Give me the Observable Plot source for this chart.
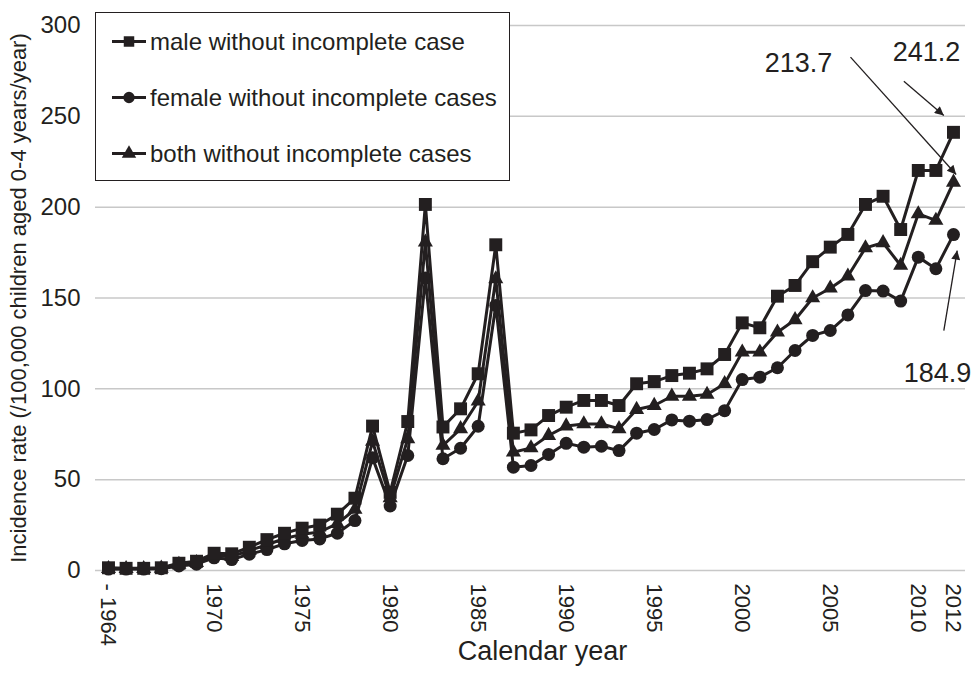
<!DOCTYPE html>
<html><head><meta charset="utf-8">
<script src="https://cdn.jsdelivr.net/npm/d3@7"></script>
<script src="https://cdn.jsdelivr.net/npm/@observablehq/plot@0.6"></script>
<style>
body{margin:0;background:#fff;}
#chart{width:975px;height:681px;}
</style></head><body><div id="chart"></div>
<script>
const years = [1964,1965,1966,1967,1968,1969,1970,1971,1972,1973,
  1974,1975,1976,1977,1978,1979,1980,1981,1982,1983,
  1984,1985,1986,1987,1988,1989,1990,1991,1992,1993,
  1994,1995,1996,1997,1998,1999,2000,2001,2002,2003,
  2004,2005,2006,2007,2008,2009,2010,2011,2012];
const male = [1.5,1.2,1.2,1.5,4,5.1,9.5,9.2,12.8,17,
  20.5,23.3,25,31,39.8,79.5,43,82,201.5,79,
  89,108.3,179.3,75.6,77.4,85.3,89.9,93.6,93.6,90.8,
  102.8,104,107.3,108.6,111,118.9,136.3,133.6,151,156.9,
  170,178,185,201.5,206,187.7,220.2,220.2,241.2];
const female = [0.8,0.8,0.8,1,2.5,3.5,7,6,9,11.5,
  14.7,16.5,17.4,20.5,27.5,62,35.5,63.3,161,61.5,
  67.3,79.4,145.9,56.9,57.8,63.9,70,67.9,68.4,66,
  75.6,77.6,82.9,82.2,83.1,88,105.1,106.4,111.6,121.1,
  129.4,132.1,140.7,154.1,153.8,148.3,172.5,166.1,184.9];
const both = [1,1,1,1.2,3.3,4.3,8.2,7.6,11,14.2,
  17.6,19.9,21.2,25.8,33.6,71,40,72.5,180.7,68.8,
  78,93.2,160.5,65.1,67.5,74.3,79.5,80.7,80.7,78,
  88.6,90.8,95.9,95.9,96.9,102.8,120.2,120.2,131.2,138,
  150,155.4,162,177.6,180.4,167.9,196.3,192.7,213.7];
const seriesNames = ["male without incomplete case","female without incomplete cases","both without incomplete cases"];
const xTicks = [1964,1970,1975,1980,1985,1990,1995,2000,2005,2010,2012];
const xTickLabels = ["- 1964","1970","1975","1980","1985","1990","1995","2000","2005","2010","2012"];
const yTicks = [0,50,100,150,200,250,300];
const xTitle = "Calendar year";
const yTitle = "Incidence rate (/100,000 children aged 0-4 years/year)";
const annoLabels = ["213.7","241.2","184.9"];
const annoTextX = [2003.2,2010.47,2011.09];
const annoTextY = [279.4,285,108.7];
const annoFromX = [2006.15,2009.18,2011.45];
const annoFromY = [282.6,269.3,132.1];
const annoToX = [2012.15,2011.45,2012.21];
const annoToY = [218,250.5,176.1];

const ink = "#231f20";
const font = "'Liberation Sans', Arial, Helvetica, sans-serif";
const seriesValues = [male, female, both];
const symbols = ["square","circle","triangle"];
const radii = [7.3,6.5,5.6];
const seriesData = seriesValues.map((vals,s) => years.map((y,i)=>({year:y, value:vals[i], series:seriesNames[s]})));
const texts = annoLabels.map((t,i)=>({t, x:annoTextX[i], y:annoTextY[i]}));
const arrows = annoLabels.map((t,i)=>({x1:annoFromX[i], y1:annoFromY[i], x2:annoToX[i], y2:annoToY[i]}));

const marks = [Plot.ruleY(yTicks, {stroke:"#c8c8c8", strokeWidth:1.5})];
[1,2,0].forEach(s => {
  marks.push(Plot.line(seriesData[s], {x:"year", y:"value", stroke:ink, strokeWidth:3}));
  marks.push(Plot.dot(seriesData[s], {x:"year", y:"value", symbol:symbols[s], r:radii[s], fill:ink, stroke:"none"}));
});
marks.push(
  Plot.axisY({ticks:yTicks, tickSize:0, tickPadding:15, fontSize:24, label:null, fill:ink}),
  Plot.axisX({ticks:xTicks, tickFormat:d=>xTickLabels[xTicks.indexOf(d)], tickRotate:90, tickSize:0, tickPadding:13, fontSize:22, label:null, fill:ink}),
  Plot.text([yTitle], {frameAnchor:"left", text:d=>d, rotate:-90, textAnchor:"middle", dx:-77, fontSize:22, fill:ink}),
  Plot.text([xTitle], {frameAnchor:"bottom", text:d=>d, textAnchor:"middle", dx:12, dy:89, fontSize:27, fill:ink}),
  Plot.link(arrows, {x1:"x1", y1:"y1", x2:"x2", y2:"y2", stroke:ink, strokeWidth:1.3, className:"anno-link"}),
  Plot.text(texts, {x:"x", y:"y", text:"t", fontSize:27, fill:ink})
);

const chart = Plot.plot({
  width:975, height:681,
  marginLeft:95, marginRight:10, marginTop:25, marginBottom:111,
  x:{domain:[1963.262,2012.682]},
  y:{domain:[0,300]},
  style:{fontFamily:font, background:"#fff", color:ink},
  marks
});
document.getElementById("chart").appendChild(chart);

const svg = d3.select(chart);
// filled arrowheads for annotation links
const defs = svg.insert("defs", ":first-child");
defs.append("marker").attr("id","anno-head").attr("viewBox","0 0 10 10")
  .attr("refX",10).attr("refY",5).attr("markerUnits","userSpaceOnUse")
  .attr("markerWidth",12).attr("markerHeight",9).attr("orient","auto")
  .append("path").attr("d","M0,0L10,5L0,10z").attr("fill",ink);
svg.selectAll(".anno-link path").attr("marker-end","url(#anno-head)");

// legend
const lg = svg.append("g");
lg.append("rect").attr("x",95.5).attr("y",12.5).attr("width",414).attr("height",168)
  .attr("fill","#fff").attr("stroke",ink).attr("stroke-width",1);
const rowY = [41.5,97.5,153.5];
const legSym = [d3.symbolSquare, d3.symbolCircle, d3.symbolTriangle];
const legSize = [110, 100, 90];
seriesNames.forEach((n,i)=>{
  const g = lg.append("g").attr("transform",`translate(0,${rowY[i]})`);
  g.append("line").attr("x1",112).attr("x2",146).attr("y1",0).attr("y2",0).attr("stroke",ink).attr("stroke-width",3);
  g.append("path").attr("d", d3.symbol(legSym[i], legSize[i])()).attr("transform","translate(129,0)").attr("fill",ink);
  g.append("text").attr("x",150).attr("y",0).attr("dy","0.35em").attr("text-anchor","start")
    .attr("font-size",24).attr("font-family",font).attr("fill",ink).text(n);
});
</script></body></html>
